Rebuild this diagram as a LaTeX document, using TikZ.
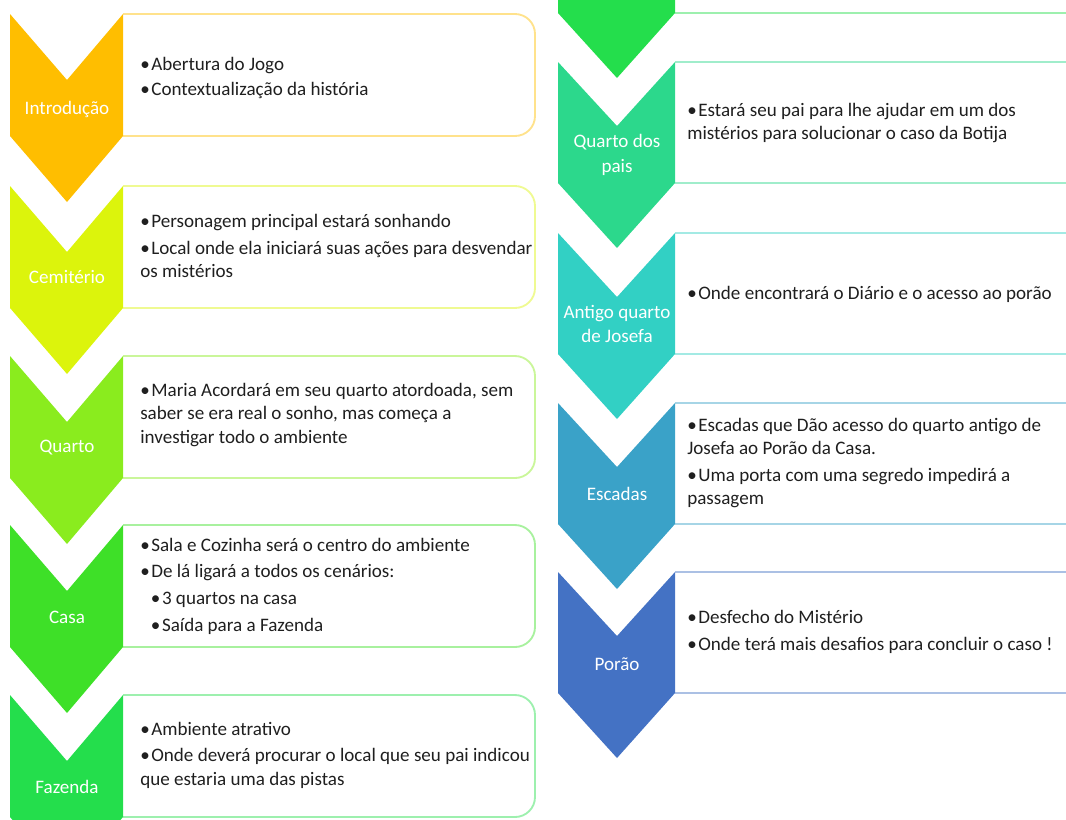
\documentclass[tikz,border=0pt]{standalone}
\usepackage{fontspec}
\setmainfont{Carlito}

\definecolor{cIntro}{RGB}{255,190,0}
\definecolor{cCemit}{RGB}{220,244,12}
\definecolor{cQuarto}{RGB}{138,236,30}
\definecolor{cCasa}{RGB}{62,224,40}
\definecolor{cFazenda}{RGB}{36,222,76}
\definecolor{cPais}{RGB}{44,216,140}
\definecolor{cJosefa}{RGB}{50,208,196}
\definecolor{cEscadas}{RGB}{58,162,200}
\definecolor{cPorao}{RGB}{68,114,196}

\newcommand{\bul}{•\kern1.2pt}

\tikzset{every node/.style={inner sep=0pt}}

\begin{document}
\begin{tikzpicture}[x=0.75pt, y=-0.75pt,
    lbl/.style={text=white, align=center, font=\fontsize{14.3}{18.5}\selectfont},
    txt/.style={anchor=west, align=left, text=black!88, font=\fontsize{14.3}{17.4}\selectfont},
    box/.style={line width=1.4pt, rounded corners=15pt}]
			\useasboundingbox (0,0) rectangle (1066,819);
			\clip (0,0) rectangle (1066,819);
			
			% Text boxes, left column
			\draw[box, cIntro!45] (123,14) -- (535,14) -- (535,136) -- (123,136);
			\draw[box, cCemit!45] (123,186) -- (535,186) -- (535,308) -- (123,308);
			\draw[box, cQuarto!45] (123,356) -- (535,356) -- (535,478) -- (123,478);
			\draw[box, cCasa!45] (123,525) -- (535,525) -- (535,647) -- (123,647);
			\draw[box, cFazenda!45] (123,695) -- (535,695) -- (535,817) -- (123,817);
			
			% Text boxes, right column (cut off at the right)
			\draw[box, cFazenda!45] (675,13) -- (1090,13);
			\draw[box, cPais!45] (675,62) -- (1090,62) (675,183) -- (1090,183);
			\draw[box, cJosefa!45] (675,233) -- (1090,233) (675,354) -- (1090,354);
			\draw[box, cEscadas!45] (675,403) -- (1090,403) (675,524) -- (1090,524);
			\draw[box, cPorao!45] (675,572) -- (1090,572) (675,693) -- (1090,693);
			
			% Chevrons, left column
			\fill[cIntro] (10,14) -- (67,80) -- (123,14) -- (123,136) -- (67,202) -- (10,136) -- cycle;
			\fill[cCemit] (10,186) -- (67,252) -- (123,186) -- (123,308) -- (67,374) -- (10,308) -- cycle;
			\fill[cQuarto] (10,356) -- (67,422) -- (123,356) -- (123,478) -- (67,544) -- (10,478) -- cycle;
			\fill[cCasa] (10,525) -- (67,591) -- (123,525) -- (123,647) -- (67,713) -- (10,647) -- cycle;
			\fill[cFazenda] (10,695) -- (67,761) -- (123,695) -- (123,817) -- (67,883) -- (10,817) -- cycle;
			
			% Chevrons, right column
			\fill[cFazenda] (558,-108) -- (617,-44) -- (675,-108) -- (675,13) -- (617,78) -- (558,13) -- cycle;
			\fill[cPais] (558,62) -- (617,126) -- (675,62) -- (675,183) -- (617,248) -- (558,183) -- cycle;
			\fill[cJosefa] (558,233) -- (617,297) -- (675,233) -- (675,354) -- (617,419) -- (558,354) -- cycle;
			\fill[cEscadas] (558,403) -- (617,467) -- (675,403) -- (675,524) -- (617,589) -- (558,524) -- cycle;
			\fill[cPorao] (558,572) -- (617,636) -- (675,572) -- (675,693) -- (617,758) -- (558,693) -- cycle;
			
			% Labels
			\node[lbl] (intro) at (67,109) {Introdução};
			\node[lbl] (cemit) at (67,277) {Cemitério};
			\node[lbl] (quarto) at (67,448) {Quarto};
			\node[lbl] (casa) at (67,617) {Casa};
			\node[lbl] (fazenda) at (67,787) {Fazenda};
			\node[lbl] (pais) at (617,155) {Quarto dos\\pais};
			\node[lbl] (josefa) at (617,324) {Antigo quarto\\de Josefa};
			\node[lbl] (escadas) at (617,494) {Escadas};
			\node[lbl] (porao) at (617,664) {Porão};
			
			% Bullet texts
			\node[txt] (introtxt) at (140,78) {\bul Abertura do Jogo\\[1.5pt]\bul Contextualização da história};
			\node[txt] (cemittxt) at (140,246) {\bul Personagem principal estará sonhando\\[2.6pt]\bul Local onde ela iniciará suas ações para desvendar\\os mistérios};
			\node[txt] (quartotxt) at (140,415) {\bul Maria Acordará em seu quarto atordoada, sem\\saber se era real o sonho, mas começa a\\investigar todo o ambiente};
			\node[txt] (casatxt) at (140,586) {\bul Sala e Cozinha será o centro do ambiente\\[2.6pt]\bul De lá ligará a todos os cenários:\\[2.6pt]\hspace{8pt}\bul 3 quartos na casa\\[2.6pt]\hspace{8pt}\bul Saída para a Fazenda};
			\node[txt] (fazendatxt) at (140,755) {\bul Ambiente atrativo\\[2.6pt]\bul Onde deverá procurar o local que seu pai indicou\\que estaria uma das pistas};
			\node[txt] (paistxt) at (687,123) {\bul Estará seu pai para lhe ajudar em um dos\\mistérios para solucionar o caso da Botija};
			\node[txt] (josefatxt) at (687,294) {\bul Onde encontrará o Diário e o acesso ao porão};
			\node[txt] (escadastxt) at (687,463) {\bul Escadas que Dão acesso do quarto antigo de\\Josefa ao Porão da Casa.\\[2.6pt]\bul Uma porta com uma segredo impedirá a\\passagem};
			\node[txt] (poraotxt) at (687,632) {\bul Desfecho do Mistério\\[2.6pt]\bul Onde terá mais desafios para concluir o caso !};
			
		\end{tikzpicture}
\end{document}
